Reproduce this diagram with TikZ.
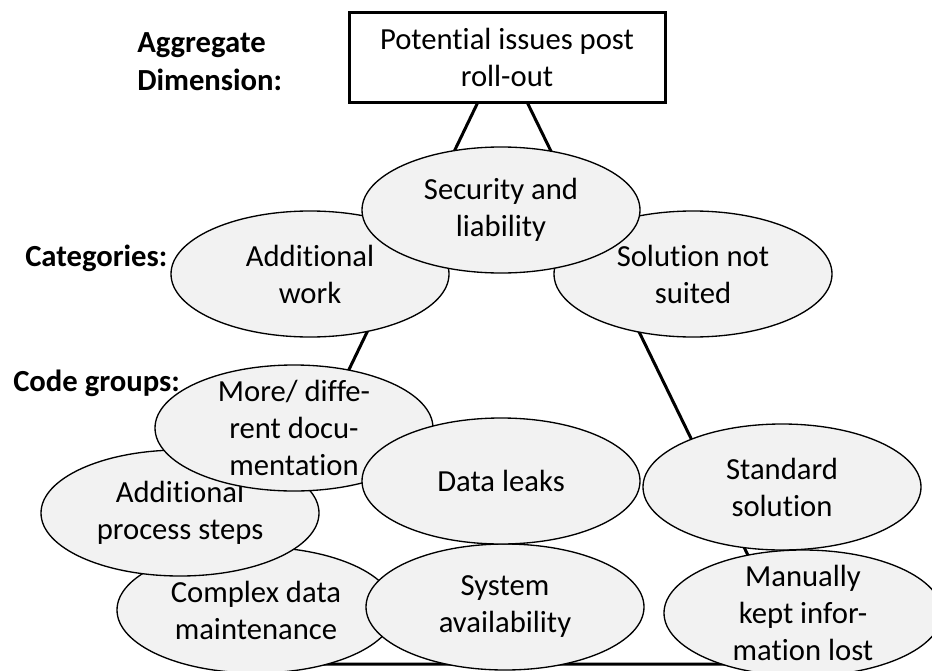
\documentclass[tikz,border=0pt]{standalone}
\usepackage{fontspec}
\setmainfont{Carlito}[Ligatures=NoCommon]
\usetikzlibrary{shapes.geometric}
\definecolor{elfill}{HTML}{F2F2F2}
\begin{document}
\begin{tikzpicture}[x=0.75pt,y=-0.75pt,
  el/.style={ellipse, draw=black, line width=1pt, fill=elfill,
    minimum width=208.5pt, minimum height=94.5pt, inner sep=0pt},
  txt/.style={font=\fontsize{23}{27.75}\selectfont, align=center, inner sep=0pt},
  lab/.style={font=\fontsize{23}{28.5}\selectfont\bfseries, align=left, inner sep=0pt, anchor=west},
  boxst/.style={draw=black, line width=2.25pt, fill=white, minimum width=237pt, minimum height=67.5pt, inner sep=0pt},
  conn/.style={line width=2.25pt}
]
\clip (0,0) rectangle (932,671);
% frame lines (behind everything)
\coordinate (apexL) at (478,102);
\coordinate (apexR) at (527,102);
\coordinate (baseL) at (207,664);
\coordinate (baseR) at (801,664);
\draw[conn, line join=miter] (apexL) -- (baseL) -- (baseR) -- (apexR);

% aggregate dimension
\node[boxst] (box) at (507,57) {};
\node[txt] (boxt) at (box.center) {Potential issues post\\roll-out};

% labels
\node[lab] (lagg) at (137,62) {Aggregate\\Dimension:};
\node[lab] (lcat) at (25,258) {Categories:};
\node[lab] (lcode) at (13,383) {Code groups:};

% categories
\node[el] (addw) at (310,274) {};
\node[txt] (addwt) at (addw.center) {Additional\\work};
\node[el] (sol) at (693,274) {};
\node[txt] (solt) at (sol.center) {Solution not\\suited};
\node[el] (sec) at (501,210) {};
\node[txt] (sect) at (sec.center) {Security and\\liability};

% code groups
\node[el] (cdm) at (256,610) {};
\node[txt] (cdmt) at (cdm.center) {Complex data\\maintenance};
\node[el] (aps) at (180,513) {};
\node[txt] (apst) at (aps.center) {Additional\\process steps};
\node[el] (mdd) at (294,428) {};
\node[txt] (mddt) at (mdd.center) {More/ diffe-\\rent docu-\\mentation};
\node[el] (sys) at (505,607) {};
\node[txt] (syst) at (sys.center) {System\\availability};
\node[el] (dl) at (501,481) {};
\node[txt] (dlt) at (dl.center) {Data leaks};
\node[el] (std) at (782,487) {};
\node[txt] (stdt) at (std.center) {Standard\\solution};
\node[el] (man) at (803,613) {};
\node[txt] (mant) at (man.center) {Manually\\kept infor-\\mation lost};
\end{tikzpicture}
\end{document}
